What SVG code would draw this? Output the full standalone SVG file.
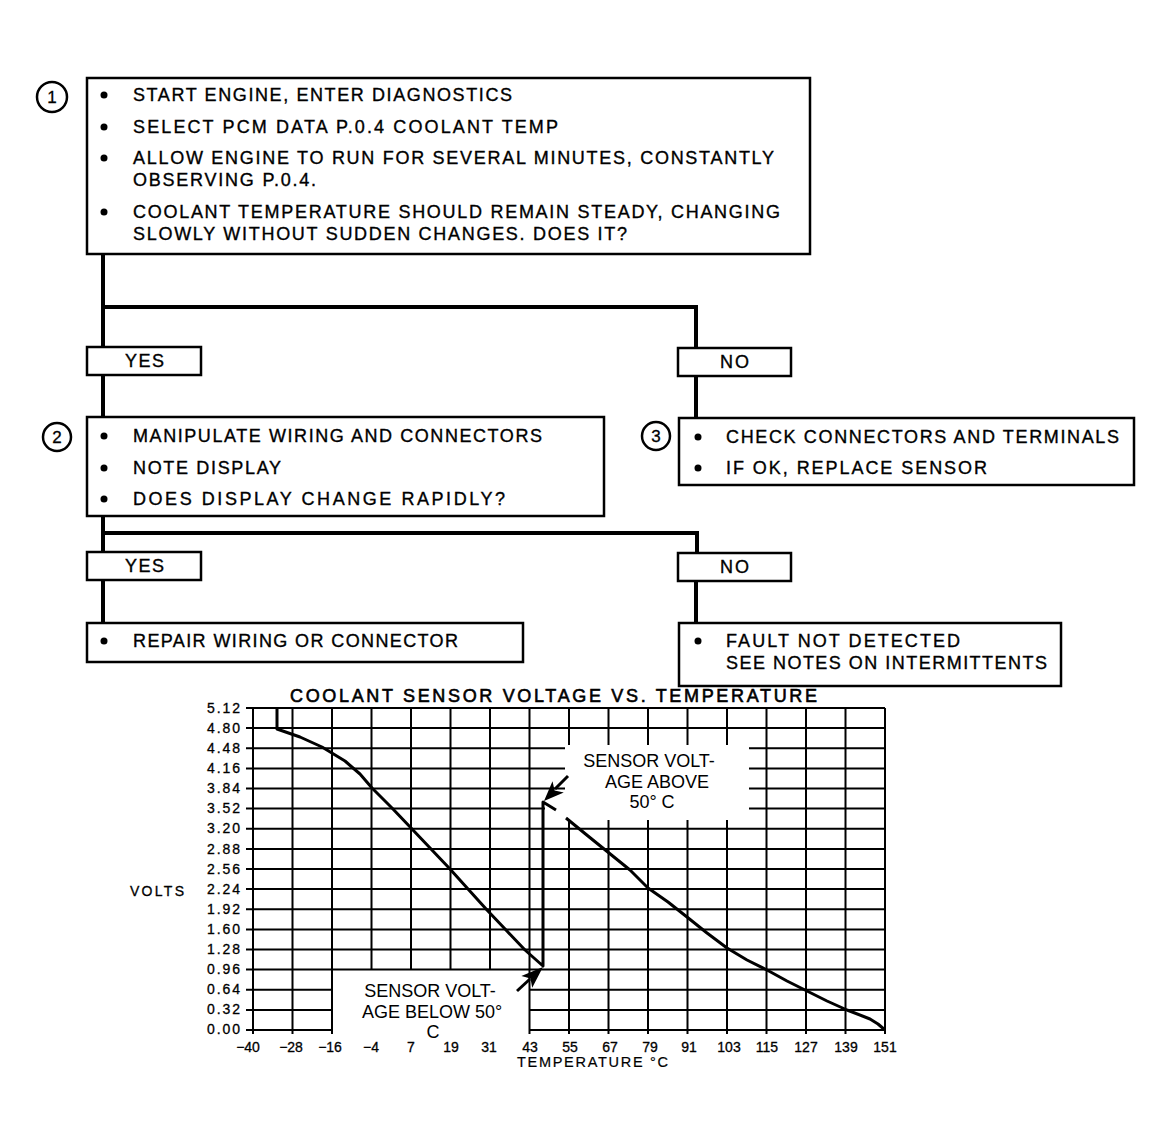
<svg xmlns="http://www.w3.org/2000/svg" width="1173" height="1142" viewBox="0 0 1173 1142">
<style>
.box{fill:#fff;stroke:#000;stroke-width:2.5}
.conn{fill:none;stroke:#000;stroke-width:4}
.t{font-family:"Liberation Sans",Arial,Helvetica,sans-serif;font-size:18px;fill:#000;stroke:#000;stroke-width:0.35}
.num{font-family:"Liberation Sans",Arial,sans-serif;font-size:17px;fill:#000;text-anchor:middle;stroke:#000;stroke-width:0.3}
.grid{fill:none;stroke:#000;stroke-width:2}
.curve{fill:none;stroke:#000;stroke-width:3;stroke-linejoin:round}
.ax{font-family:"Liberation Sans",Arial,sans-serif;font-size:14px;fill:#000;stroke:#000;stroke-width:0.3}
.lab{font-family:"Liberation Sans",Arial,sans-serif;font-size:18px;fill:#000}
.ring{fill:#fff;stroke:#000;stroke-width:2.5}
</style>
<rect width="1173" height="1142" fill="#fff"/>

<g id="connectors">
<path class="conn" d="M103,254 V347 M103,307 H696 V348"/>
<path class="conn" d="M103,375 V417"/>
<path class="conn" d="M696,376 V418"/>
<path class="conn" d="M103,516 V552 M103,533 H697 V553"/>
<path class="conn" d="M103,580 V623"/>
<path class="conn" d="M696,581 V623"/>
</g>

<g id="step1">
<circle class="ring" cx="52" cy="97" r="15"/>
<text class="num" x="52" y="103">1</text>
<rect class="box" x="87" y="78" width="723" height="176"/>
<circle cx="104" cy="95" r="3.5"/><circle cx="104" cy="127" r="3.5"/><circle cx="104" cy="158" r="3.5"/><circle cx="104" cy="212" r="3.5"/>
<text class="t" x="133" y="101" textLength="379" lengthAdjust="spacing">START ENGINE, ENTER DIAGNOSTICS</text>
<text class="t" x="133" y="133" textLength="425" lengthAdjust="spacing">SELECT PCM DATA P.0.4 COOLANT TEMP</text>
<text class="t" x="133" y="164" textLength="641" lengthAdjust="spacing">ALLOW ENGINE TO RUN FOR SEVERAL MINUTES, CONSTANTLY</text>
<text class="t" x="133" y="186" textLength="183" lengthAdjust="spacing">OBSERVING P.0.4.</text>
<text class="t" x="133" y="218" textLength="647" lengthAdjust="spacing">COOLANT TEMPERATURE SHOULD REMAIN STEADY, CHANGING</text>
<text class="t" x="133" y="240" textLength="494" lengthAdjust="spacing">SLOWLY WITHOUT SUDDEN CHANGES. DOES IT?</text>
</g>

<g id="yes1">
<rect class="box" x="87" y="347" width="114" height="28"/>
<text class="t" x="125" y="367" textLength="39" lengthAdjust="spacing">YES</text>
</g>
<g id="no1">
<rect class="box" x="678" y="348" width="113" height="28"/>
<text class="t" x="720" y="368" textLength="29" lengthAdjust="spacing">NO</text>
</g>

<g id="step2">
<circle class="ring" cx="57" cy="437" r="14"/>
<text class="num" x="57" y="443">2</text>
<rect class="box" x="87" y="417" width="517" height="99"/>
<circle cx="104" cy="436" r="3.5"/><circle cx="104" cy="468" r="3.5"/><circle cx="104" cy="499" r="3.5"/>
<text class="t" x="133" y="442" textLength="409" lengthAdjust="spacing">MANIPULATE WIRING AND CONNECTORS</text>
<text class="t" x="133" y="474" textLength="148" lengthAdjust="spacing">NOTE DISPLAY</text>
<text class="t" x="133" y="505" textLength="372" lengthAdjust="spacing">DOES DISPLAY CHANGE RAPIDLY?</text>
</g>

<g id="step3">
<circle class="ring" cx="656" cy="436" r="14"/>
<text class="num" x="656" y="442">3</text>
<rect class="box" x="679" y="418" width="455" height="67"/>
<circle cx="698" cy="437" r="3.5"/><circle cx="698" cy="468" r="3.5"/>
<text class="t" x="726" y="443" textLength="393" lengthAdjust="spacing">CHECK CONNECTORS AND TERMINALS</text>
<text class="t" x="726" y="474" textLength="261" lengthAdjust="spacing">IF OK, REPLACE  SENSOR</text>
</g>

<g id="yes2">
<rect class="box" x="87" y="552" width="114" height="28"/>
<text class="t" x="125" y="572" textLength="39" lengthAdjust="spacing">YES</text>
</g>
<g id="no2">
<rect class="box" x="678" y="553" width="113" height="28"/>
<text class="t" x="720" y="573" textLength="29" lengthAdjust="spacing">NO</text>
</g>

<g id="repair">
<rect class="box" x="87" y="623" width="436" height="39"/>
<circle cx="104" cy="641" r="3.5"/>
<text class="t" x="133" y="647" textLength="325" lengthAdjust="spacing">REPAIR WIRING OR CONNECTOR</text>
</g>

<g id="fault">
<rect class="box" x="679" y="623" width="382" height="63"/>
<circle cx="698" cy="641" r="3.5"/>
<text class="t" x="726" y="647" textLength="234" lengthAdjust="spacing">FAULT NOT DETECTED</text>
<text class="t" x="726" y="669" textLength="321" lengthAdjust="spacing">SEE NOTES ON INTERMITTENTS</text>
</g>

<g id="chart">
<text class="t" x="290" y="702" textLength="527" lengthAdjust="spacing" style="font-size:18px;stroke-width:0.6">COOLANT SENSOR VOLTAGE VS. TEMPERATURE</text>
<path class="grid" d="
M246,708H885 M246,728.1H885
M246,748.3H565 M749,748.3H885
M246,768.4H565 M749,768.4H885
M246,788.5H565 M749,788.5H885
M246,808.6H545 M749,808.6H885
M246,828.8H885 M246,848.9H885 M246,869H885 M246,889.1H885
M246,909.3H885 M246,929.4H885 M246,949.5H885 M246,969.6H885
M246,989.8H332 M529.5,989.8H885
M246,1009.9H332 M529.5,1009.9H885
M246,1030H332 M529.5,1030H885
M253,708V1034 M292.5,708V1034 M332,708V1034
M371.5,708V969.6 M411,708V969.6 M450.5,708V969.6 M490,708V969.6
M529.5,708V1034
M569,708V745 M569,820V1034
M608.5,708V745 M608.5,820V1034
M648,708V745 M648,820V1034
M687.5,708V745 M687.5,820V1034
M727,708V745 M727,820V1034
M766.5,708V1034 M806,708V1034 M845.5,708V1034 M885,708V1034"/>
<path class="curve" d="M277,708 L277,729 L300,737 L322,747 L345,761 L360,774 L372,788 L392,808 L412,829 L431,849 L450,869 L468,889 L487,910 L506,930 L525,950 L543,966 L543,802 L556,810"/>
<path class="curve" d="M566,818 L588,836 L609,853 L630,870 L648,888 L668,902 L687,917 L707,933 L727,948 L747,960 L767,970 L787,981 L807,991 L827,1001 L847,1010 L870,1019 L878,1024 L885,1030"/>
<g id="arrows">
<line x1="568" y1="776" x2="555" y2="789" stroke="#000" stroke-width="3"/>
<polygon points="544,801 552.5,781.2 554.6,790.4 563.8,792.6"/>
<line x1="517" y1="991" x2="530" y2="979" stroke="#000" stroke-width="3"/>
<polygon points="543,967 532.2,987.8 530.5,978.5 521.4,976"/>
</g>
<g class="ax">
<text x="240" y="713" text-anchor="end" textLength="33" lengthAdjust="spacing">5.12</text>
<text x="240" y="733" text-anchor="end" textLength="33" lengthAdjust="spacing">4.80</text>
<text x="240" y="753" text-anchor="end" textLength="33" lengthAdjust="spacing">4.48</text>
<text x="240" y="773" text-anchor="end" textLength="33" lengthAdjust="spacing">4.16</text>
<text x="240" y="793" text-anchor="end" textLength="33" lengthAdjust="spacing">3.84</text>
<text x="240" y="813" text-anchor="end" textLength="33" lengthAdjust="spacing">3.52</text>
<text x="240" y="833" text-anchor="end" textLength="33" lengthAdjust="spacing">3.20</text>
<text x="240" y="854" text-anchor="end" textLength="33" lengthAdjust="spacing">2.88</text>
<text x="240" y="874" text-anchor="end" textLength="33" lengthAdjust="spacing">2.56</text>
<text x="240" y="894" text-anchor="end" textLength="33" lengthAdjust="spacing">2.24</text>
<text x="240" y="914" text-anchor="end" textLength="33" lengthAdjust="spacing">1.92</text>
<text x="240" y="934" text-anchor="end" textLength="33" lengthAdjust="spacing">1.60</text>
<text x="240" y="954" text-anchor="end" textLength="33" lengthAdjust="spacing">1.28</text>
<text x="240" y="974" text-anchor="end" textLength="33" lengthAdjust="spacing">0.96</text>
<text x="240" y="994" text-anchor="end" textLength="33" lengthAdjust="spacing">0.64</text>
<text x="240" y="1014" text-anchor="end" textLength="33" lengthAdjust="spacing">0.32</text>
<text x="240" y="1034" text-anchor="end" textLength="33" lengthAdjust="spacing">0.00</text>
<text x="130" y="896" textLength="54" lengthAdjust="spacing">VOLTS</text>
</g>
<g class="ax" text-anchor="middle">
<text x="248" y="1052">−40</text>
<text x="291" y="1052">−28</text>
<text x="330" y="1052">−16</text>
<text x="371" y="1052">−4</text>
<text x="411" y="1052">7</text>
<text x="451" y="1052">19</text>
<text x="489" y="1052">31</text>
<text x="530" y="1052">43</text>
<text x="570" y="1052">55</text>
<text x="610" y="1052">67</text>
<text x="650" y="1052">79</text>
<text x="689" y="1052">91</text>
<text x="729" y="1052">103</text>
<text x="767" y="1052">115</text>
<text x="806" y="1052">127</text>
<text x="846" y="1052">139</text>
<text x="885" y="1052">151</text>
</g>
<text class="ax" x="517" y="1067" textLength="151" lengthAdjust="spacing" style="font-size:14.5px;stroke-width:0.2">TEMPERATURE °C</text>
<g class="lab" text-anchor="middle">
<text x="649" y="767">SENSOR VOLT-</text>
<text x="657" y="788">AGE ABOVE</text>
<text x="652" y="808">50° C</text>
<text x="430" y="997">SENSOR VOLT-</text>
<text x="432" y="1018">AGE BELOW 50°</text>
<text x="433" y="1038">C</text>
</g>
</g>
</svg>
